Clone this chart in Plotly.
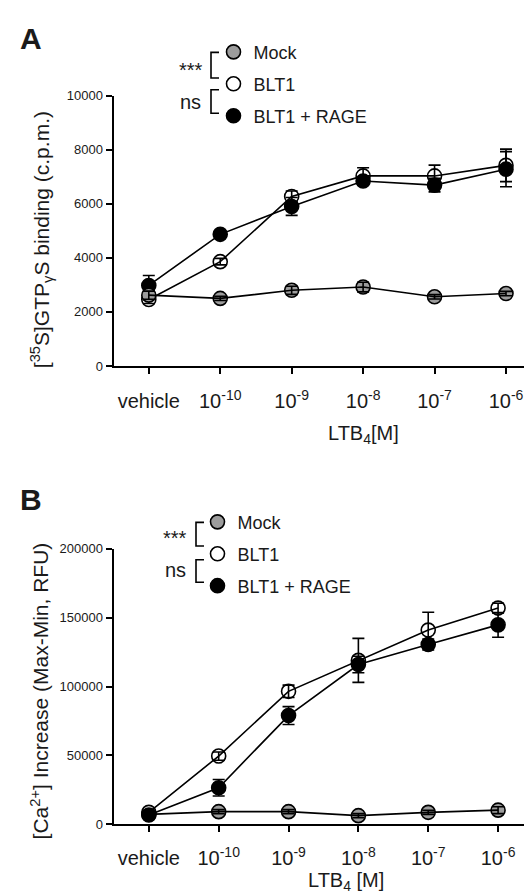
import plotly.graph_objects as go

W, H = 532, 894
FONT = "Liberation Sans, Arial, sans-serif"

categories = ["vehicle", "10<sup>-10</sup>", "10<sup>-9</sup>", "10<sup>-8</sup>", "10<sup>-7</sup>", "10<sup>-6</sup>"]
xpos = [0, 1, 2, 3, 4, 5]

# Panel A: [35S]GTPgS binding (c.p.m.)
a_mock = [2620, 2500, 2800, 2920, 2560, 2680]
a_mock_err = [150, 80, 150, 180, 80, 80]
a_blt1 = [2460, 3860, 6270, 7030, 7030, 7420]
a_blt1_err = [150, 120, 200, 300, 400, 600]
a_rage = [2980, 4870, 5900, 6840, 6690, 7280]
a_rage_err = [370, 100, 330, 150, 250, 650]

# Panel B: [Ca2+] increase (Max-Min, RFU)
b_mock = [7100, 9100, 9100, 6200, 8600, 10200]
b_mock_err = [1500, 1500, 1500, 1500, 1500, 2500]
b_blt1 = [8600, 49500, 96500, 119000, 141000, 157000]
b_blt1_err = [1500, 3000, 4500, 16000, 13000, 3500]
b_rage = [6700, 26500, 78900, 116000, 130500, 144800]
b_rage_err = [1500, 6000, 6500, 6000, 4000, 9000]

series_names = ["Mock", "BLT1", "BLT1 + RAGE"]
fills = {"Mock": "#9c9c9c", "BLT1": "white", "BLT1 + RAGE": "black"}

def px(x):
    return x / W

def py(y):
    return 1 - y / H

fig = go.Figure()

def add_series(name, y, err, xa, ya):
    # symbols first, then connecting line and error bars drawn over them
    fig.add_trace(go.Scatter(
        x=xpos, y=y, mode="markers", name=name, showlegend=False,
        xaxis=xa, yaxis=ya, cliponaxis=False,
        marker=dict(size=14, color=fills[name], line=dict(color="black", width=1.6)),
    ))
    fig.add_trace(go.Scatter(
        x=xpos, y=y, mode="lines", name=name, showlegend=False,
        xaxis=xa, yaxis=ya, cliponaxis=False,
        line=dict(color="black", width=1.6),
        error_y=dict(type="data", array=err, visible=True, color="black", thickness=1.6, width=6),
    ))

add_series("BLT1", a_blt1, a_blt1_err, "x", "y")
add_series("BLT1 + RAGE", a_rage, a_rage_err, "x", "y")
add_series("Mock", a_mock, a_mock_err, "x", "y")

add_series("Mock", b_mock, b_mock_err, "x2", "y2")
add_series("BLT1", b_blt1, b_blt1_err, "x2", "y2")
add_series("BLT1 + RAGE", b_rage, b_rage_err, "x2", "y2")

# legend entries
for lg, xa, ya in [("legend", "x", "y"), ("legend2", "x2", "y2")]:
    for i, name in enumerate(series_names):
        fig.add_trace(go.Scatter(
            x=[None], y=[None], mode="markers", name=name, legend=lg,
            legendgroup=lg + str(i), xaxis=xa, yaxis=ya,
            marker=dict(size=14, color=fills[name], line=dict(color="black", width=1.6)),
        ))

axis_common = dict(showline=True, linecolor="black", linewidth=2, ticks="outside",
                   ticklen=6, tickwidth=1.6, tickcolor="black", showgrid=False,
                   zeroline=False)

fig.update_layout(
    width=W, height=H, margin=dict(l=0, r=0, t=0, b=0),
    paper_bgcolor="white", plot_bgcolor="white",
    font=dict(family=FONT, color="#1a1a1a"),
    xaxis=dict(domain=[px(105.5), px(525)], anchor="y", range=[-0.494, 5.378],
               tickvals=xpos, ticktext=categories, tickfont=dict(size=20),
               ticklabelstandoff=10, **axis_common),
    yaxis=dict(domain=[py(357), py(82)], anchor="x", range=[0, 10000],
               tickvals=[0, 2000, 4000, 6000, 8000, 10000], tickformat="d",
               tickfont=dict(size=13), **axis_common),
    xaxis2=dict(domain=[px(105.5), px(525)], anchor="y2", range=[-0.506, 5.5],
                tickvals=xpos, ticktext=categories, tickfont=dict(size=20),
                ticklabelstandoff=9, **axis_common),
    yaxis2=dict(domain=[py(823), py(543)], anchor="x2", range=[0, 200000],
                tickvals=[0, 50000, 100000, 150000, 200000], tickformat="d",
                tickfont=dict(size=13), **axis_common),
    legend=dict(x=px(205.5), y=py(19), xanchor="left", yanchor="top",
                font=dict(size=18), tracegroupgap=5.5, bgcolor="rgba(0,0,0,0)",
                borderwidth=0),
    legend2=dict(x=px(189.5), y=py(497), xanchor="left", yanchor="top",
                 font=dict(size=18), tracegroupgap=5.5, bgcolor="rgba(0,0,0,0)",
                 borderwidth=0),
)

ann = []
def text(x, y, t, size, bold=False, angle=0, xanchor="center"):
    ann.append(dict(x=px(x), y=py(y), xref="paper", yref="paper", text=("<b>%s</b>" % t) if bold else t,
                    showarrow=False, font=dict(size=size, family=FONT, color="#1a1a1a"),
                    textangle=angle, xanchor=xanchor, yanchor="middle"))

text(23, 24, "A", 30, bold=True)
text(23, 493, "B", 30, bold=True)
text(33, 229, "[<sup>35</sup>S]GTP<sub>γ</sub>S binding (c.p.m.)", 21, angle=-90)
text(32, 688, "[Ca<sup>2+</sup>] Increase (Max-Min, RFU)", 21, angle=-90)
text(355, 427, "LTB<sub>4</sub>[M]", 20)
text(338, 881, "LTB<sub>4</sub> [M]", 20)
text(183, 56, "***", 20)
text(182, 88, "ns", 20)
text(167, 532, "***", 20)
text(167, 564, "ns", 20)

shapes = []
def bracket(x, y0, y1, xr):
    shapes.append(dict(type="path", xref="paper", yref="paper",
                       path="M %f %f L %f %f L %f %f L %f %f" % (px(xr), py(y0), px(x), py(y0), px(x), py(y1), px(xr), py(y1)),
                       line=dict(color="black", width=1.6)))

bracket(203, 38, 64, 211)
bracket(203, 76, 100, 211)
bracket(188, 516, 540, 196)
bracket(188, 554, 577, 196)

fig.update_layout(annotations=ann, shapes=shapes)
fig.write_html("out.html")
